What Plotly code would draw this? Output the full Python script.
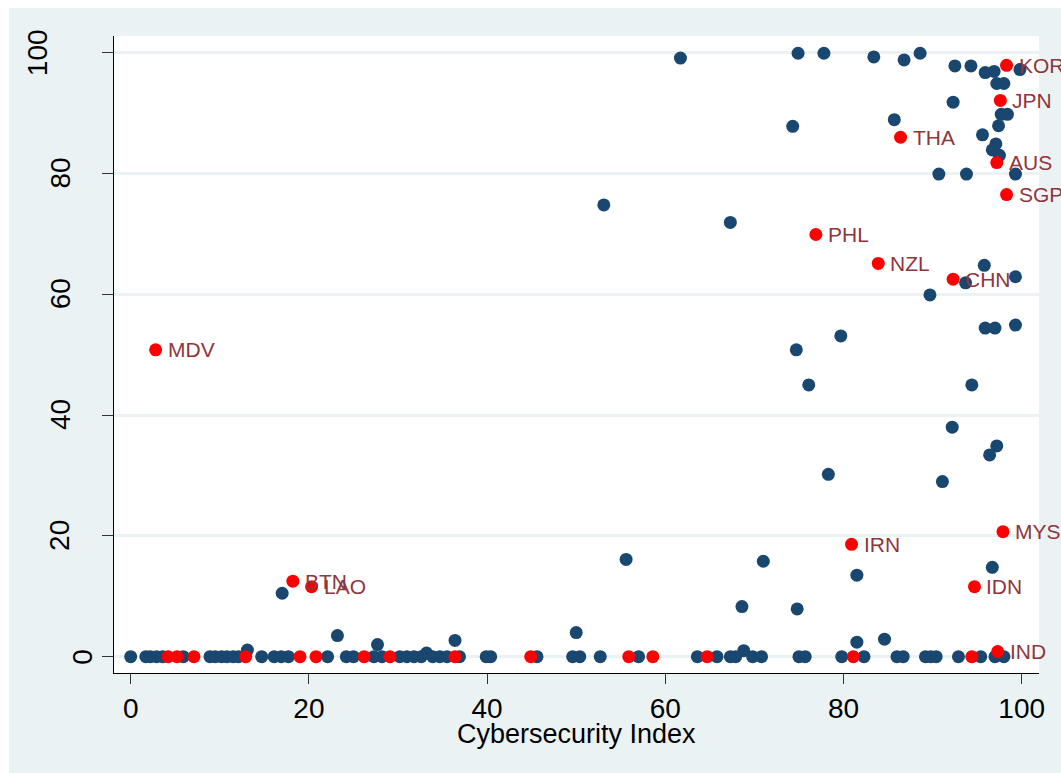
import plotly.graph_objects as go

# Countries shown in navy: cybersecurity index vs. score
navy_x = [61.7, 74.9, 77.8, 83.4, 86.8, 88.6, 92.5, 94.3, 95.9, 96.9, 99.8, 97.2, 98.0,
          92.3, 97.7, 98.4, 97.4, 85.7, 74.3, 95.6, 97.1, 96.7, 97.5, 90.7, 93.8, 99.3,
          53.1, 67.3, 95.8, 93.7, 99.3, 89.7, 95.9, 97.0, 99.3, 74.7, 79.7, 76.1, 94.4,
          92.2, 97.2, 96.4, 78.3, 91.1, 55.6, 71.0, 96.7, 81.5, 68.6, 74.8, 81.5, 84.6,
          68.8, 50.0, 17.0, 23.2, 27.7, 36.4, 13.1, 33.2,
          0.0, 1.7, 2.2, 2.9, 3.6, 5.9, 8.9, 9.5, 10.2, 10.8, 11.5, 12.1, 14.7, 16.1,
          16.9, 17.7, 22.1, 24.2, 25.0, 27.3, 28.2, 30.2, 31.0, 31.8, 32.6, 33.9, 34.7,
          35.5, 36.9, 39.9, 40.4, 45.6, 49.6, 50.4, 52.7, 57.0, 63.6, 65.8, 67.3, 67.9,
          69.8, 70.8, 75.0, 75.7, 79.8, 82.3, 86.0, 86.7, 89.2, 89.8, 90.4, 92.9, 95.4,
          97.0, 98.0]
navy_y = [99.1, 99.9, 99.9, 99.3, 98.8, 99.9, 97.8, 97.8, 96.7, 96.9, 97.2, 94.9, 94.9,
          91.8, 89.8, 89.8, 87.9, 88.9, 87.8, 86.4, 84.9, 83.9, 83.0, 79.9, 79.9, 79.9,
          74.8, 71.9, 64.8, 61.9, 62.9, 59.9, 54.4, 54.4, 54.9, 50.8, 53.1, 45.0, 45.0,
          38.0, 34.9, 33.4, 30.2, 29.0, 16.1, 15.8, 14.8, 13.5, 8.3, 7.9, 2.4, 2.9,
          1.0, 4.0, 10.5, 3.5, 2.0, 2.7, 1.1, 0.6,
          0, 0, 0, 0, 0, 0, 0, 0, 0, 0, 0, 0, 0, 0,
          0, 0, 0, 0, 0, 0, 0, 0, 0, 0, 0, 0, 0,
          0, 0, 0, 0, 0, 0, 0, 0, 0, 0, 0, 0, 0,
          0, 0, 0, 0, 0, 0, 0, 0, 0, 0, 0, 0, 0,
          0, 0]

# Highlighted (red) countries without a label
red_x = [4.2, 5.2, 7.1, 12.9, 19.0, 20.8, 26.2, 29.1, 36.4, 44.9, 55.9, 58.6, 64.7, 81.1, 94.4]
red_y = [0, 0, 0, 0, 0, 0, 0, 0, 0, 0, 0, 0, 0, 0, 0]

# Highlighted (red) countries with ISO code labels
lab_codes = ["MDV", "BTN", "LAO", "THA", "KOR", "JPN", "AUS", "SGP", "PHL", "NZL",
             "CHN", "IRN", "MYS", "IDN", "IND"]
lab_x = [2.8, 18.2, 20.3, 86.4, 98.3, 97.6, 97.2, 98.3, 76.9, 83.9, 92.3, 80.9, 97.9, 94.7, 97.3]
lab_y = [50.8, 12.5, 11.6, 86.0, 97.9, 92.1, 81.8, 76.5, 69.9, 65.1, 62.5, 18.6, 20.7, 11.6, 0.85]

x_ticks = [0, 20, 40, 60, 80, 100]
y_ticks = [0, 20, 40, 60, 80, 100]
y_tick_text = ["0", "20", "40", "60", "80", "100"]
x_title = "Cybersecurity Index"

NAVY = "#1A476F"
RED = "#FF0000"
CRANBERRY = "rgb(144,53,59)"
BLUISH = "#EAF2F3"
FONT = "Liberation Sans, Arial, sans-serif"

W, H = 1061, 773
ML, MR, MT, MB = 114, 22, 36, 100
PW = W - ML - MR
PH = H - MT - MB

fig = go.Figure()
fig.add_trace(go.Scatter(x=navy_x, y=navy_y, mode="markers",
                         marker=dict(color=NAVY, size=13, line=dict(width=0)),
                         hoverinfo="skip"))
fig.add_trace(go.Scatter(x=red_x, y=red_y, mode="markers",
                         marker=dict(color=RED, size=13, line=dict(width=0)),
                         hoverinfo="skip"))
fig.add_trace(go.Scatter(x=lab_x, y=lab_y, mode="markers", cliponaxis=False,
                         marker=dict(color=RED, size=13, line=dict(width=0)),
                         hoverinfo="skip"))

# country codes to the right of their markers
for cx, cy, code in zip(lab_x, lab_y, lab_codes):
    fig.add_annotation(x=cx, y=cy, xref="x", yref="y", text=code, showarrow=False,
                       xanchor="left", yanchor="middle", xshift=10,
                       font=dict(family=FONT, size=21, color=CRANBERRY))

# rotated y tick labels
label_px = {1: 83, 2: 60, 3: 37.5}
for v, t in zip(y_ticks, y_tick_text):
    fig.add_annotation(x=(label_px[len(t)] - ML) / PW, xref="paper", y=v, yref="y",
                       text=t, textangle=-90, showarrow=False,
                       xanchor="center", yanchor="middle",
                       font=dict(family=FONT, size=28, color="black"))

# x axis title
fig.add_annotation(x=0.5, xref="paper", y=-(734 - (H - MB)) / PH, yref="paper",
                   text=x_title, showarrow=False, xanchor="center", yanchor="middle",
                   font=dict(family=FONT, size=27, color="black"))

# white outer margin strips
fig.add_shape(type="rect", xref="paper", yref="paper",
              x0=-0.2, x1=(9 - ML) / PW, y0=-0.3, y1=1.2,
              fillcolor="white", line=dict(width=0), layer="below")
fig.add_shape(type="rect", xref="paper", yref="paper",
              x0=-0.2, x1=1.2, y0=(H - MB - 8) / PH, y1=1.2,
              fillcolor="white", line=dict(width=0), layer="below")

fig.update_layout(
    width=W, height=H,
    margin=dict(l=ML, r=MR, t=MT, b=MB, pad=0),
    paper_bgcolor=BLUISH, plot_bgcolor="white",
    showlegend=False,
    font=dict(family=FONT, color="black"),
    xaxis=dict(range=[-1.874, 101.94], tickvals=x_ticks, ticks="outside", ticklen=10,
               tickwidth=1.3, tickcolor="#333", tickfont=dict(size=28, family=FONT),
               showline=True, linecolor="black", linewidth=1.3, showgrid=False,
               zeroline=False),
    yaxis=dict(range=[-2.70, 102.76], tickvals=y_ticks, ticks="outside", ticklen=11,
               tickwidth=1.3, tickcolor="#333", showticklabels=False,
               showline=True, linecolor="black", linewidth=1.3,
               showgrid=True, gridcolor=BLUISH, gridwidth=2.5, zeroline=False),
)

fig.write_html("out.html")
